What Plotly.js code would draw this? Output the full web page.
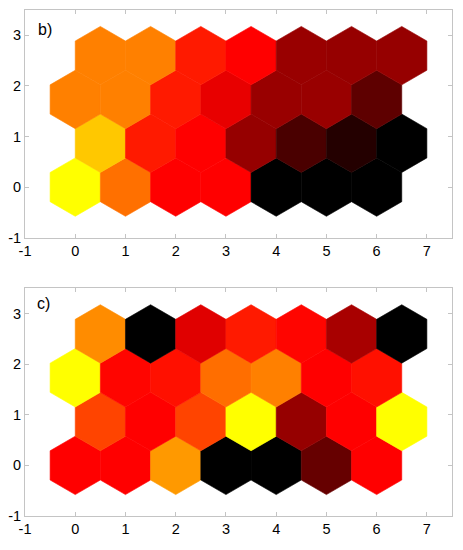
<!DOCTYPE html>
<html>
<head>
<meta charset="utf-8">
<script src="https://cdn.plot.ly/plotly-3.0.1.min.js"></script>
<style>html,body{margin:0;padding:0;background:#fff;}#chart{width:463px;height:550px;}</style>
</head>
<body>
<div id="chart"></div>
<script>
// Map grid: 7 columns x 4 rows, hexagonal lattice (odd rows shifted by 0.5)
const nCols = 7;
const nRows = 4;
const tickValsX = [-1, 0, 1, 2, 3, 4, 5, 6, 7];
const tickTextX = ["-1", "0", "1", "2", "3", "4", "5", "6", "7"];
const tickValsY = [-1, 0, 1, 2, 3];
const tickTextY = ["-1", "0", "1", "2", "3"];
const panelLabels = ["b)", "c)"];

// Component-plane values (0..0.75 on the "hot" colormap), listed row by row from bottom (row 0) to top (row 3)
const valuesB = [
  [0.750, 0.540, 0.375, 0.375, 0.000, 0.000, 0.000],
  [0.669, 0.413, 0.375, 0.221, 0.109, 0.053, 0.000],
  [0.563, 0.563, 0.413, 0.341, 0.225, 0.225, 0.138],
  [0.563, 0.563, 0.413, 0.375, 0.225, 0.221, 0.221]
];
const valuesC = [
  [0.375, 0.375, 0.600, 0.000, 0.000, 0.150, 0.375],
  [0.475, 0.375, 0.475, 0.750, 0.221, 0.375, 0.750],
  [0.750, 0.382, 0.398, 0.537, 0.563, 0.375, 0.398],
  [0.581, 0.000, 0.329, 0.413, 0.382, 0.247, 0.000]
];

// MATLAB-style "hot" colormap
function hot(v) {
  const c = x => Math.max(0, Math.min(1, x));
  const r = c(v / 0.375), g = c((v - 0.375) / 0.375), b = c((v - 0.75) / 0.25);
  const h = x => Math.round(x * 255);
  return `rgb(${h(r)},${h(g)},${h(b)})`;
}

const R = 1 / Math.sqrt(3);
const hexDX = [0, 0.5, 0.5, 0, -0.5, -0.5, 0];
const hexDY = [R, R / 2, -R / 2, -R, -R / 2, R / 2, R];

function hexTraces(values, xa, ya) {
  const traces = [];
  for (let r = 0; r < nRows; r++) {
    for (let c = 0; c < nCols; c++) {
      const cx = c + (r % 2 ? 0.5 : 0);
      const cy = r * Math.sqrt(3) / 2;
      const col = hot(values[r][c]);
      traces.push({
        type: 'scatter', mode: 'lines', xaxis: xa, yaxis: ya,
        x: hexDX.map(d => cx + d), y: hexDY.map(d => cy + d),
        fill: 'toself', fillcolor: col,
        line: {color: col, width: 0.6},
        hoverinfo: 'skip', showlegend: false
      });
    }
  }
  return traces;
}

const data = [].concat(hexTraces(valuesB, 'x', 'y'), hexTraces(valuesC, 'x2', 'y2'));

const axisStyle = {
  showgrid: false, zeroline: false, showline: true, linecolor: '#c4c4c4', linewidth: 1,
  mirror: 'ticks', ticks: 'inside', ticklen: 4, tickcolor: '#c4c4c4',
  tickfont: {family: 'Liberation Sans, Arial, sans-serif', size: 14.5, color: '#000'},
  fixedrange: true
};
function xAxis(anchor) {
  return Object.assign({}, axisStyle, {range: [-1, 7.5], tickmode: 'array', tickvals: tickValsX, ticktext: tickTextX, anchor: anchor});
}
function yAxis(anchor, domain) {
  return Object.assign({}, axisStyle, {range: [-1, 3.5], tickmode: 'array', tickvals: tickValsY, ticktext: tickTextY, anchor: anchor, domain: domain});
}

const layout = {
  width: 463, height: 550,
  margin: {l: 25, r: 11, t: 10, b: 34},
  paper_bgcolor: '#fff', plot_bgcolor: '#fff',
  showlegend: false,
  xaxis: xAxis('y'),
  yaxis: yAxis('x', [0.55, 1]),
  xaxis2: xAxis('y2'),
  yaxis2: yAxis('x2', [0, 0.45]),
  annotations: [
    {xref: 'x', yref: 'y', x: -0.78, y: 3.12, text: panelLabels[0], showarrow: false, xanchor: 'left',
     font: {family: 'Liberation Sans, Arial, sans-serif', size: 16, color: '#000'}},
    {xref: 'x2', yref: 'y2', x: -0.8, y: 3.2, text: panelLabels[1], showarrow: false, xanchor: 'left',
     font: {family: 'Liberation Sans, Arial, sans-serif', size: 16, color: '#000'}}
  ]
};

Plotly.newPlot('chart', data, layout, {displayModeBar: false, staticPlot: true});
</script>
</body>
</html>
